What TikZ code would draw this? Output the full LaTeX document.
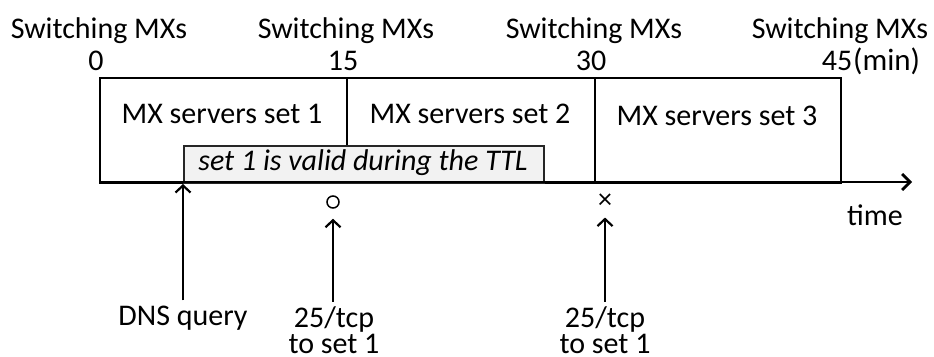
\documentclass[tikz,border=0pt]{standalone}
\usepackage{fontspec}
\setmainfont{Carlito}
\usetikzlibrary{arrows.meta}
\begin{document}
\begin{tikzpicture}[x=1pt,y=-1pt,
  txt/.style={font=\fontsize{30}{26}\selectfont, inner sep=0pt},
  slot/.style={draw, line width=2pt, inner sep=0pt, anchor=north west},
  ttlbox/.style={draw=black!85, fill=black!5, line width=2pt, inner sep=0pt, anchor=north west},
  pointer/.style={line width=1.8pt, -{Straight Barb[length=7pt,width=15pt,line width=2.2pt]}},
  axisline/.style={line width=2.8pt, -{Straight Barb[length=8pt,width=16pt,line width=2.8pt]}}]
\useasboundingbox (0,0) rectangle (934,356);

% time slots
\node[slot, minimum width=247pt, minimum height=105pt] (s1) at (99,77) {};
\node[slot, minimum width=248pt, minimum height=105pt] (s2) at (346,77) {};
\node[slot, minimum width=246pt, minimum height=105pt] (s3) at (594,77) {};
\node[txt, anchor=base] (l1) at (222,123) {MX servers set 1};
\node[txt, anchor=base] (l2) at (470,123) {MX servers set 2};
\node[txt, anchor=base] (l3) at (717,125) {MX servers set 3};

% TTL validity window
\node[ttlbox, minimum width=360pt, minimum height=37pt] (ttl) at (183,145) {};
\node[txt, anchor=base, font=\fontsize{30}{26}\selectfont\itshape] (ttltext) at (363,170) {set 1 is valid during the TTL};

% time axis
\coordinate (ax0) at (99,182);
\coordinate (ax1) at (912,182);
\draw[axisline] (ax0) -- (ax1);
\node[txt, anchor=base] (time) at (875,225) {time};

% switching instants
\foreach \x/\n/\v in {99/sw0/0, 346/sw15/15, 594/sw30/30, 840/sw45/45} {
  \node[txt, anchor=base] (\n) at (\x,38) {Switching MXs};
  \node[txt, anchor=base] (\n v) at (\x-3,70) {\v};
}
\node[txt, anchor=base west, font=\fontsize{31}{26}\selectfont] (unit) at (853,70) {(min)};

% events
\node[txt, anchor=base] (dns) at (183,325) {DNS query};
\coordinate (dnstip) at (183,184);
\draw[pointer] (dns.north) ++(0,-5) coordinate (dnsfoot) -- (dnstip);

\node[circle, draw, line width=1.5pt, minimum size=12pt, inner sep=0pt] (ok) at (333,202) {};
\node[txt, anchor=base] (q1) at (334,327) {25/tcp};
\node[txt, anchor=base] (q1b) at (334,353) {to set 1};
\draw[pointer, shorten >=10pt, shorten <=4pt] (q1.north -| ok) -- (ok.south);

\node[txt, font=\fontsize{28}{28}\selectfont] (ng) at (605,201) {×};
\node[txt, anchor=base] (q2) at (605,327) {25/tcp};
\node[txt, anchor=base] (q2b) at (605,353) {to set 1};
\draw[pointer, shorten >=9pt, shorten <=4pt] (q2.north -| ng) -- (ng.south);
\end{tikzpicture}
\end{document}
